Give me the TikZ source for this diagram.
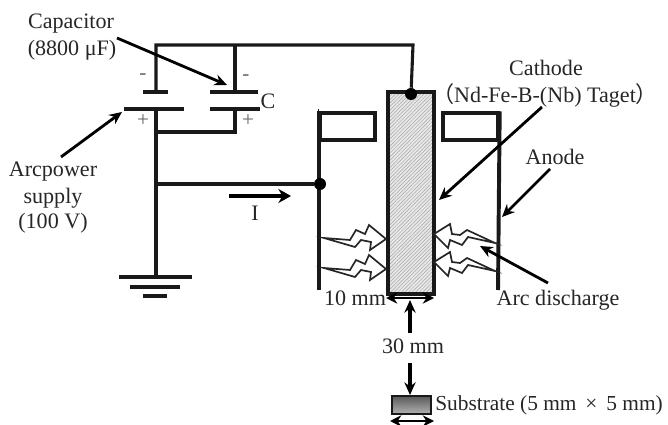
\documentclass[tikz,border=0pt]{standalone}
\usepackage{fontspec}
\setmainfont{Liberation Serif}
\newfontfamily\cjk{Noto Sans CJK JP}
\usetikzlibrary{arrows.meta,patterns.meta}
\tikzset{
	wire/.style={line width=2.2pt, color=black!90},
	pointer/.style={line width=2pt, -{Stealth[length=9pt,width=8pt]}},
	heavy/.style={line width=2.8pt, -{Stealth[length=9pt,width=10pt]}},
	span/.style={line width=2pt, {Stealth[length=8pt,width=8pt]}-{Stealth[length=8pt,width=8pt]}},
	flash/.style={line width=1.2pt, color=black!85, fill=white, line join=miter},
	label/.style={font=\fontsize{15.7}{18}\selectfont, color=black!85, inner sep=0pt},
	sign/.style={font=\fontsize{15}{17}\selectfont, color=black!60, inner sep=0pt},
	box/.style={draw=black!90, line width=2.4pt, inner sep=0pt, fill=white},
	dot/.style={circle, fill=black, inner sep=0pt, minimum size=0.3cm},
}
\def\flashleft(#1){\draw[flash,shift={(#1)}] (0,0) -- (26,2) -- (32,-8) -- (41,-4) -- (45,-13) -- (62,1) -- (46,12) -- (47,4) -- (37,2) -- (31,9) -- cycle;}
\def\flashright(#1){\draw[flash,shift={(#1)}] (0,0) -- (-28,-13) -- (-35,-8) -- (-43,-9) -- (-45,-19) -- (-61,-9) -- (-47,5) -- (-45,-3) -- (-33,2) -- (-27,-6) -- cycle;}

\begin{document}
\begin{tikzpicture}[x=0.025cm, y=-0.025cm]
		\useasboundingbox (0, 0) rectangle (668, 425);
		
		%%%%% junctions
		\coordinate (topL) at (156, 45);
		\coordinate (topR) at (235, 45);
		\coordinate (topC) at (413, 45);
		\coordinate (plateA) at (156, 92);
		\coordinate (plateB) at (156, 109);
		\coordinate (plateC) at (235, 92);
		\coordinate (plateD) at (235, 109);
		\coordinate (bendD) at (235, 132);
		\coordinate (joinD) at (156, 132);
		\coordinate (joinI) at (156, 184);
		\coordinate (earth) at (156, 277);
		
		%%%%% cathode and anode
		\node[box, line width=2.8pt, minimum width=1.05cm, minimum height=4.95cm] (cathode) at (411, 193) {};
		\fill[black!9] (cathode.south west) rectangle (cathode.north east);
		\fill[pattern={Lines[angle=45,distance=1.8pt,line width=0.35pt]}, pattern color=black!35] (cathode.south west) rectangle (cathode.north east);
		\draw[box, line width=2.8pt, fill=none] (cathode.south west) rectangle (cathode.north east);
		\node[box, minimum width=1.375cm, minimum height=0.675cm] (boxL) at (347.5, 126.5) {};
		\node[box, minimum width=1.375cm, minimum height=0.675cm] (boxR) at (470.5, 126.5) {};
		\coordinate (anodeL) at (319, 290);
		\coordinate (anodeR) at (498, 290);
		\draw[wire, line width=2.8pt] (boxL.north west) -- (anodeL |- boxL.north west);
		\draw[wire, line width=2.8pt] (anodeL |- boxL.north west) -- (anodeL);
		\draw[wire, line width=2.8pt] (boxR.north east) -- (anodeR);
		\node[dot] (dotC) at (411, 94) {};
		\node[dot] (dotA) at (320, 184) {};
		
		%%%%% circuit
		\draw[wire] (plateA) -- (topL) -- (topC) -- (dotC);
		\draw[wire] (topR) -- (plateC);
		\draw[wire] (plateB) -- (earth);
		\draw[wire] (plateD) -- (bendD) -- (joinD);
		\draw[wire] (joinI) -- (dotA);
		
		\draw[wire] (143, 92) -- (168, 92);
		\draw[wire] (124, 109) -- (184, 109);
		\draw[wire] (210, 92) -- (258, 92);
		\draw[wire] (210, 109) -- (260, 109);
		\draw[wire] (119, 277) -- (192, 277);
		\draw[wire] (130, 287) -- (180, 287);
		\draw[wire] (143, 296) -- (167, 296);
		
		%%%%% arcs
		\coordinate (flashA) at (324, 238);
		\coordinate (flashB) at (324, 268);
		\coordinate (flashC) at (495, 243);
		\coordinate (flashD) at (495, 271);
		\flashleft(flashA)
		\flashleft(flashB)
		\flashright(flashC)
		\flashright(flashD)
		
		%%%%% substrate
		\node[draw=black!90, line width=2pt, inner sep=0pt, minimum width=0.975cm, minimum height=0.45cm, top color=black!65, bottom color=black!30] (substrate) at (411.5, 405) {};
		
		%%%%% labels
		\node[label] (capA) at (71, 24) {Capacitor};
		\node[label] (capB) at (72, 50) {(8800 μF)};
		\node[label] (powerA) at (53, 172) {Arcpower};
		\node[label] (powerB) at (53, 198) {supply};
		\node[label] (powerC) at (53, 223) {(100 V)};
		\node[label] (cathodeA) at (546, 68) {Cathode};
		\node[label] (cathodeB) at (545, 95) {{\cjk （}Nd-Fe-B-(Nb) Taget{\cjk ）}};
		\node[label] (anode) at (555, 157) {Anode};
		\node[label] (arc) at (558, 300) {Arc discharge};
		\node[label] (gapA) at (355, 298) {10 mm};
		\node[label] (gapB) at (413, 346) {30 mm};
		\node[label, anchor=west, font=\fontsize{15.2}{18}\selectfont] (subst) at (435, 405) {Substrate (5 mm \,×\, 5 mm)};
		\node[label] (capC) at (268, 101) {C};
		\node[label] (current) at (255, 213) {I};
		\node[sign] (minusA) at (143, 77) {-};
		\node[sign] (minusB) at (246, 78) {-};
		\node[sign] (plusA) at (143, 121) {+};
		\node[sign] (plusB) at (248, 121) {+};
		
		%%%%% pointers
		\coordinate (tipCap) at (227, 85);
		\coordinate (tipPower) at (122, 112);
		\coordinate (tipCathode) at (439, 200);
		\coordinate (tipAnode) at (502, 217);
		\coordinate (tipArc) at (480, 246);
		\coordinate (tailCap) at (117, 38);
		\coordinate (tailPower) at (61, 157);
		\coordinate (tailCathode) at (542, 107);
		\coordinate (tailAnode) at (550, 169);
		\coordinate (tailArc) at (548, 283);
		\draw[pointer] (tailCap) -- (tipCap);
		\draw[pointer] (tailPower) -- (tipPower);
		\draw[pointer] (tailCathode) -- (tipCathode);
		\draw[pointer] (tailAnode) -- (tipAnode);
		\draw[pointer] (tailArc) -- (tipArc);
		
		\coordinate (tailI) at (229, 196);
		\coordinate (tipI) at (291, 196);
		\draw[heavy] (tailI) -- (tipI);
		\draw[span] (386, 298) -- (434, 298);
		\draw[span] (390, 421) -- (434, 421);
		\coordinate (tailUp) at (410, 333);
		\coordinate (tipUp) at (410, 300);
		\coordinate (tailDown) at (410, 363);
		\coordinate (tipDown) at (410, 395);
		\draw[pointer, line width=2.4pt] (tailUp) -- (tipUp);
		\draw[pointer, line width=2.4pt] (tailDown) -- (tipDown);
		
\end{tikzpicture}
\end{document}
